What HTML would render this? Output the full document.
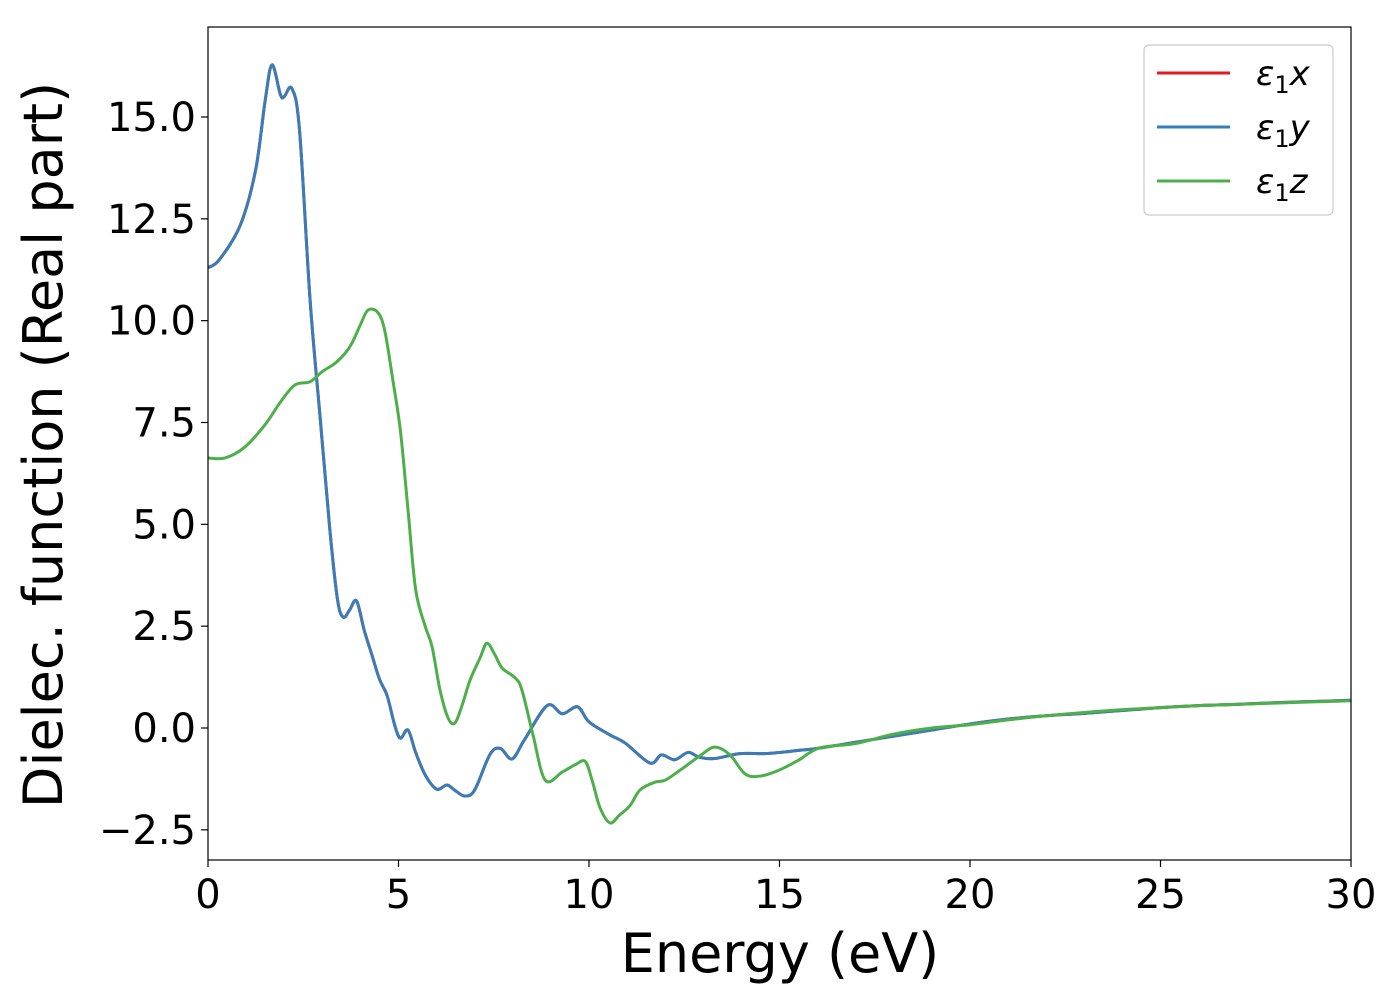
<!DOCTYPE html>
<html><head><meta charset="utf-8"><style>
body{margin:0;background:#fff}
svg text{font-family:"DejaVu Sans","Liberation Sans",sans-serif;fill:#000}
</style></head><body>
<svg id="chart" width="1400" height="1000" xmlns="http://www.w3.org/2000/svg">
<g id="plot"></g>
</svg>
<script>
const xTicks=[0,5,10,15,20,25,30];
const xTickLabels=["0","5","10","15","20","25","30"];
const yTicks=[-2.5,0,2.5,5,7.5,10,12.5,15];
const yTickLabels=["\u22122.5","0.0","2.5","5.0","7.5","10.0","12.5","15.0"];
const energyXY=[0,0.3,0.85,1.25,1.5,1.68,1.9,2.0,2.2,2.4,2.68,2.95,3.2,3.4,3.55,3.72,3.9,4.1,4.3,4.5,4.7,4.9,5.05,5.25,5.45,5.7,6.0,6.27,6.48,6.74,7.0,7.4,7.67,7.98,8.3,8.9,9.3,9.7,10.0,10.55,10.95,11.6,11.9,12.25,12.6,12.9,13.3,13.95,14.6,15.0,15.5,16,17,18,19,20,21,22,23,24,25,26,27,28,29,30];
const eps1x=[11.3,11.5,12.35,13.7,15.4,16.28,15.55,15.5,15.7,14.7,10.5,7.55,4.85,3.15,2.72,2.9,3.12,2.4,1.8,1.2,0.8,0.07,-0.25,-0.05,-0.6,-1.15,-1.5,-1.4,-1.53,-1.67,-1.52,-0.65,-0.5,-0.76,-0.3,0.55,0.35,0.52,0.15,-0.17,-0.37,-0.86,-0.66,-0.78,-0.6,-0.72,-0.75,-0.63,-0.63,-0.6,-0.55,-0.5,-0.35,-0.2,-0.05,0.1,0.22,0.3,0.36,0.43,0.5,0.55,0.58,0.62,0.65,0.68];
const eps1y=eps1x.slice();
const energyZ=[0,0.45,0.97,1.5,1.9,2.28,2.68,3.0,3.33,3.6,3.78,4.0,4.2,4.46,4.64,4.85,5.05,5.25,5.45,5.7,5.88,6.09,6.3,6.48,6.67,6.88,7.14,7.32,7.53,7.72,8.06,8.24,8.53,8.85,9.3,9.64,9.9,10.08,10.29,10.55,10.8,11.08,11.34,11.73,12.0,12.4,12.9,13.3,13.7,14.1,14.5,15.0,15.5,16.05,17,18,19,20,21,22,23,24,25,26,27,28,29,30];
const eps1z=[6.63,6.63,6.9,7.45,8.0,8.42,8.5,8.75,8.95,9.2,9.45,9.9,10.26,10.2,9.75,8.55,7.3,5.35,3.4,2.5,2.0,0.93,0.25,0.12,0.56,1.18,1.72,2.08,1.8,1.47,1.23,0.93,-0.17,-1.28,-1.08,-0.9,-0.82,-1.28,-1.96,-2.33,-2.14,-1.9,-1.52,-1.33,-1.28,-1.03,-0.69,-0.47,-0.66,-1.13,-1.18,-1.03,-0.79,-0.49,-0.38,-0.15,0.0,0.08,0.2,0.3,0.38,0.45,0.5,0.55,0.58,0.61,0.64,0.67];

const L=208,R=1351,T=27,B=860;
const X=e=>L+(e-0)/(30-0)*(R-L);
const Y=v=>728-v*(611/15);
const NS="http://www.w3.org/2000/svg";
const svg=document.getElementById('chart');
function mk(t,a,p){const el=document.createElementNS(NS,t);for(const k in a)el.setAttribute(k,a[k]);(p||svg).appendChild(el);return el;}
function pathD(xs,ys){const P=xs.map((x,i)=>[X(x),Y(ys[i])]);let d="M"+P[0][0]+","+P[0][1];
for(let i=0;i<P.length-1;i++){const p0=P[i-1]||P[i],p1=P[i],p2=P[i+1],p3=P[i+2]||p2;
d+=" C"+(p1[0]+(p2[0]-p0[0])/6)+","+(p1[1]+(p2[1]-p0[1])/6)+" "+(p2[0]-(p3[0]-p1[0])/6)+","+(p2[1]-(p3[1]-p1[1])/6)+" "+p2[0]+","+p2[1];}return d;}
const clip=mk('clipPath',{id:'c'});mk('rect',{x:L,y:T,width:R-L,height:B-T},clip);
const plot=document.getElementById('plot');
const series=[["series-eps1x",energyXY,eps1x,"#e41a1c"],["series-eps1y",energyXY,eps1y,"#377eb8"],["series-eps1z",energyZ,eps1z,"#4daf4a"]];
series.forEach(s=>{const p=mk('path',{d:pathD(s[1],s[2]),fill:'none',stroke:s[3],'stroke-width':3,'stroke-linejoin':'round','clip-path':'url(#c)'},plot);

});
const frame=mk('rect',{x:L,y:T,width:R-L,height:B-T,fill:'none',stroke:'#000','stroke-width':1.2});


xTicks.forEach((t,i)=>{mk('line',{x1:X(t),x2:X(t),y1:B,y2:B+7,stroke:'#000','stroke-width':1.2});
const tx=mk('text',{x:X(t),y:B+48,'text-anchor':'middle','font-size':40});tx.textContent=xTickLabels[i];

});
yTicks.forEach((t,i)=>{mk('line',{x1:L-7,x2:L,y1:Y(t),y2:Y(t),stroke:'#000','stroke-width':1.2});
const tx=mk('text',{x:L-12,y:Y(t)+14,'text-anchor':'end','font-size':40});tx.textContent=yTickLabels[i];

});
const xl=mk('text',{x:780,y:972,'text-anchor':'middle','font-size':54});xl.textContent="Energy (eV)";


const yl=mk('text',{x:0,y:0,'text-anchor':'middle','font-size':54,transform:'translate(62,445) rotate(-90)'});yl.textContent="Dielec. function (Real part)";


const lg=mk('g',{});


mk('rect',{x:1144,y:45,width:189,height:170,rx:5,fill:'#fff',stroke:'#ccc','stroke-width':1.2},lg);
const lab=["x","y","z"];
series.forEach((s,i)=>{const y=73+i*54;mk('line',{x1:1157,x2:1230,y1:y,y2:y,stroke:s[3],'stroke-width':3},lg);
const t=mk('text',{x:1256,y:y+12,'font-size':34,'font-style':'italic'},lg);
t.innerHTML='ε<tspan font-style="normal" font-size="24" dy="8">1</tspan><tspan dy="-8">'+lab[i]+'</tspan>';

});
</script>
</body></html>
